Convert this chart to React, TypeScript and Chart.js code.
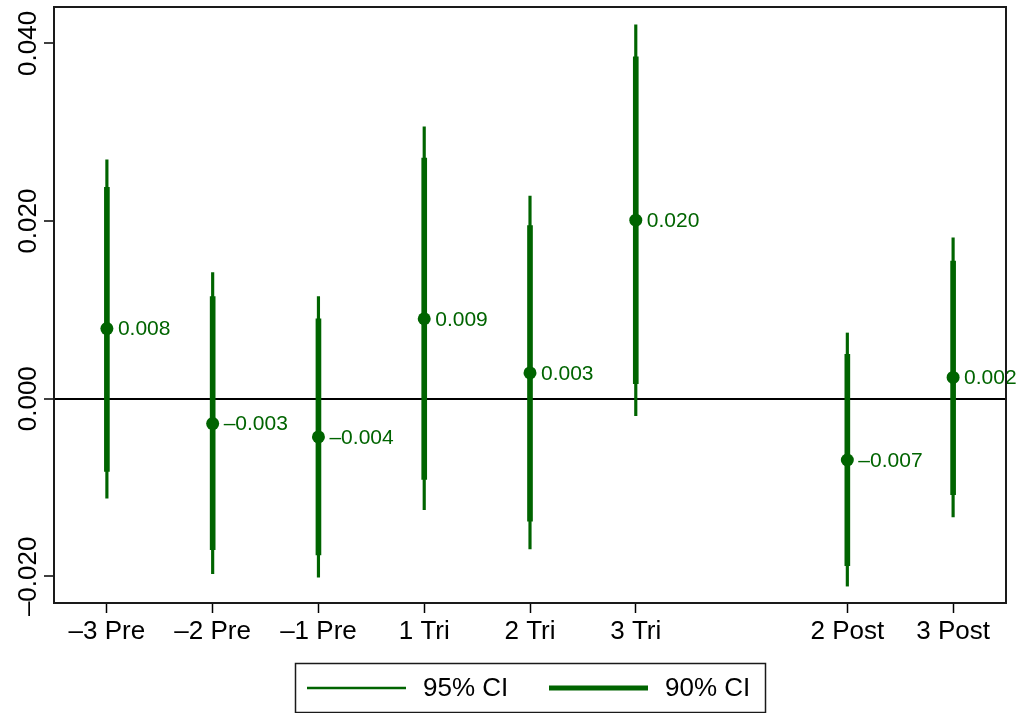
import React, { useEffect, useRef } from 'react';
import { Chart, registerables } from 'chart.js';

Chart.register(...registerables);

// ---- data ----
const categories = ['–3 Pre', '–2 Pre', '–1 Pre', '1 Tri', '2 Tri', '3 Tri', '2 Post', '3 Post'];
const categoryIndex = [1, 2, 3, 4, 5, 6, 8, 9];
const estimates = [0.0079, -0.0028, -0.0043, 0.0090, 0.0029, 0.0201, -0.0069, 0.0024];
const ci95Low = [-0.0112, -0.0197, -0.0201, -0.0125, -0.0169, -0.0019, -0.0211, -0.0133];
const ci95High = [0.0269, 0.0142, 0.0115, 0.0306, 0.0228, 0.0421, 0.0074, 0.0181];
const ci90Low = [-0.0082, -0.0170, -0.0176, -0.0091, -0.0138, 0.0017, -0.0188, -0.0108];
const ci90High = [0.0238, 0.0115, 0.0090, 0.0271, 0.0195, 0.0385, 0.0050, 0.0155];
const yTicks = [-0.02, 0, 0.02, 0.04];
const yTickLabels = ['–0.020', '0.000', '0.020', '0.040'];
const xRange = [0.5, 9.5];
const yRange = [-0.0230, 0.0441];
const legendLabels = ['95% CI', '90% CI'];

const GREEN = '#006400';
const FONT = '"Liberation Sans", Arial, Helvetica, sans-serif';

const fmt = (v: number) => (v < 0 ? '–' : '') + Math.abs(v).toFixed(3);

const decor = {
  id: 'decor',
  afterDatasetsDraw(chart: any) {
    const { ctx, scales } = chart;
    const x = scales.x, y = scales.y;
    ctx.save();
    ctx.fillStyle = GREEN;
    ctx.font = `21px ${FONT}`;
    ctx.textAlign = 'left';
    ctx.textBaseline = 'middle';
    estimates.forEach((v, i) => {
      ctx.fillText(fmt(v), x.getPixelForValue(categoryIndex[i]) + 11, y.getPixelForValue(v) + 1);
    });
    ctx.restore();
  },
  afterDraw(chart: any) {
    const { ctx, chartArea: a, scales } = chart;
    const y = scales.y;
    ctx.save();
    // frame
    ctx.strokeStyle = '#1a1a1a';
    ctx.lineWidth = 2;
    ctx.strokeRect(a.left, a.top, a.right - a.left, a.bottom - a.top);
    // rotated y tick labels
    ctx.fillStyle = '#000';
    ctx.font = `26px ${FONT}`;
    ctx.textAlign = 'center';
    ctx.textBaseline = 'alphabetic';
    yTicks.forEach((v, i) => {
      ctx.save();
      ctx.translate(36, y.getPixelForValue(v));
      ctx.rotate(-Math.PI / 2);
      ctx.fillText(yTickLabels[i], 0, 0);
      ctx.restore();
    });
    // legend
    const bx = 295, by = 663, bw = 470, bh = 49;
    ctx.strokeStyle = '#1a1a1a';
    ctx.lineWidth = 1.5;
    ctx.strokeRect(bx + 0.5, by + 0.5, bw, bh);
    const ly = 688;
    const ds = chart.data.datasets;
    const items = [
      { x0: 307, x1: 406, tx: 423, w: ds[0].maxBarThickness, label: legendLabels[0] },
      { x0: 549, x1: 648, tx: 665, w: ds[1].maxBarThickness, label: legendLabels[1] },
    ];
    items.forEach((it) => {
      ctx.strokeStyle = GREEN;
      ctx.lineWidth = it.w;
      ctx.beginPath();
      ctx.moveTo(it.x0, ly);
      ctx.lineTo(it.x1, ly);
      ctx.stroke();
      ctx.fillStyle = '#000';
      ctx.textAlign = 'left';
      ctx.textBaseline = 'middle';
      ctx.font = `26px ${FONT}`;
      ctx.fillText(it.label, it.tx, ly + 1);
    });
    ctx.restore();
  },
};

export default function App() {
  const ref = useRef<HTMLCanvasElement | null>(null);

  useEffect(() => {
    document.body.style.margin = '0';
    const canvas = ref.current;
    if (!canvas) return;
    const chart = new Chart(canvas, {
      type: 'scatter',
      data: {
        datasets: [
          {
            type: 'bar',
            label: legendLabels[0],
            data: categoryIndex.map((c, i) => ({ x: c, y: [ci95Low[i], ci95High[i]] })) as any,
            backgroundColor: GREEN,
            barThickness: 2.5,
            maxBarThickness: 2.5,
            grouped: false,
            borderWidth: 0,
            order: 3,
          } as any,
          {
            type: 'bar',
            label: legendLabels[1],
            data: categoryIndex.map((c, i) => ({ x: c, y: [ci90Low[i], ci90High[i]] })) as any,
            backgroundColor: GREEN,
            barThickness: 5,
            maxBarThickness: 5,
            grouped: false,
            borderWidth: 0,
            order: 2,
          } as any,
          {
            type: 'scatter',
            label: 'Estimate',
            data: categoryIndex.map((c, i) => ({ x: c, y: estimates[i] })),
            backgroundColor: GREEN,
            borderWidth: 0,
            pointRadius: 6.5,
            pointHoverRadius: 6.5,
            order: 1,
          },
        ],
      },
      options: {
        animation: false,
        responsive: false,
        events: [],
        layout: { padding: { top: 7, right: 15, bottom: 0, left: 0 } },
        plugins: { legend: { display: false }, tooltip: { enabled: false } },
        scales: {
          x: {
            type: 'linear',
            min: xRange[0],
            max: xRange[1],
            offset: false,
            afterBuildTicks: (s: any) => {
              s.ticks = categoryIndex.map((v) => ({ value: v }));
            },
            afterFit: (s: any) => {
              s.height = 110;
            },
            grid: {
              drawOnChartArea: false,
              drawTicks: true,
              tickLength: 10,
              tickColor: '#000',
              tickWidth: 1.5,
              offset: false,
            },
            border: { display: false },
            ticks: {
              callback: (_v: any, i: number) => categories[i],
              font: { size: 26, family: FONT },
              color: '#000',
              padding: 3,
              maxRotation: 0,
              minRotation: 0,
              autoSkip: false,
            },
          },
          y: {
            type: 'linear',
            min: yRange[0],
            max: yRange[1],
            afterBuildTicks: (s: any) => {
              s.ticks = yTicks.map((v) => ({ value: v }));
            },
            afterFit: (s: any) => {
              s.width = 54;
            },
            grid: {
              drawOnChartArea: true,
              drawTicks: true,
              tickLength: 10,
              tickColor: '#000',
              tickWidth: 1.5,
              color: (c: any) => (c.tick && c.tick.value === 0 ? '#000' : 'rgba(0,0,0,0)'),
              lineWidth: (c: any) => (c.tick && c.tick.value === 0 ? 2 : 0),
            },
            border: { display: false },
            ticks: { display: false },
          },
        },
      },
      plugins: [decor],
    } as any);
    return () => chart.destroy();
  }, []);

  return (
    <div style={{ position: 'absolute', left: 0, top: 0, width: 1021, height: 713, background: '#fff' }}>
      <canvas ref={ref} width={1021} height={713} style={{ display: 'block' }} />
    </div>
  );
}
